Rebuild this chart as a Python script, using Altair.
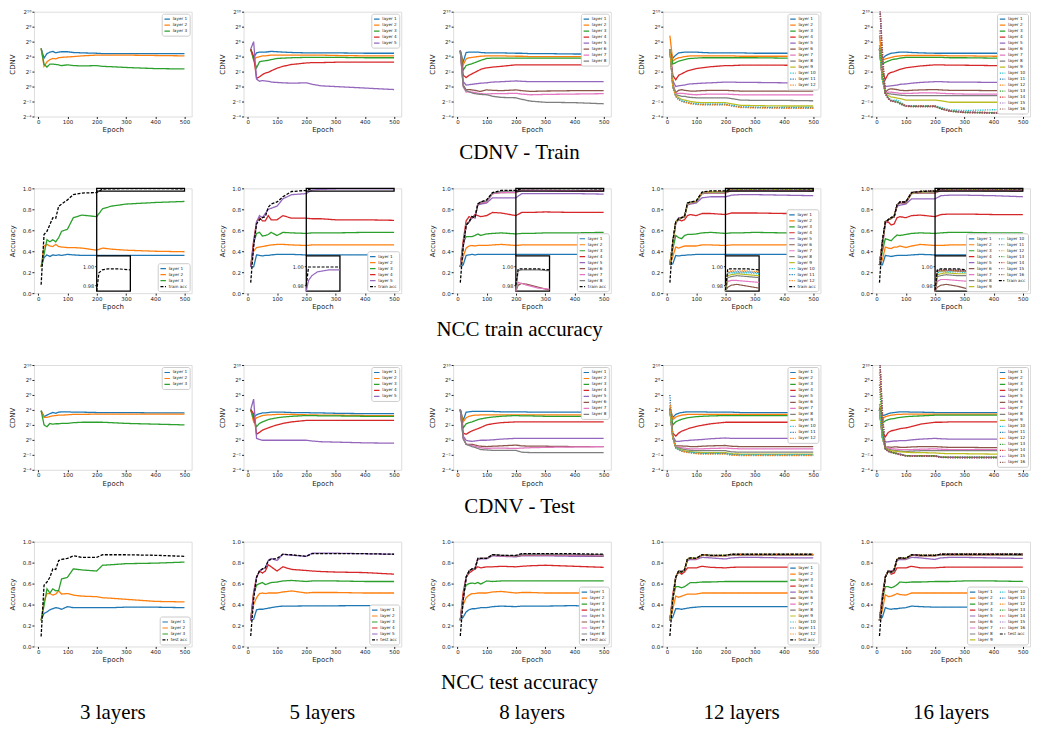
import altair as alt
import pandas as pd

EPOCHS = [10, 20, 30, 40, 50, 60, 70, 80, 100, 120, 150, 200, 220, 250, 300, 400, 500]
COL_LABELS = ["3 layers", "5 layers", "8 layers", "12 layers", "16 layers"]
ROW_TITLES = ["CDNV - Train", "NCC train accuracy", "CDNV - Test", "NCC test accuracy"]
CDNV_TICKS = [-4, -2, 0, 2, 4, 6, 8, 10]
ACC_TICKS = [0.0, 0.2, 0.4, 0.6, 0.8, 1.0]
EPOCH_TICKS = [0, 100, 200, 300, 400, 500]
INSET_TICKS = [0.98, 1.00]
TAB10 = ["#1f77b4", "#ff7f0e", "#2ca02c", "#d62728", "#9467bd",
         "#8c564b", "#e377c2", "#7f7f7f", "#bcbd22", "#17becf"]

# ---------------- CDNV train (log2 values) ----------------
cdnv_train_3 = {
    "layer 1": [5.1, 3.8, 4.4, 4.6, 4.7, 4.5, 4.6, 4.65, 4.65, 4.55, 4.5, 4.45, 4.4, 4.4, 4.4, 4.4, 4.4],
    "layer 2": [5.1, 2.7, 3.3, 3.6, 3.75, 3.7, 3.85, 3.9, 3.95, 4.0, 4.1, 4.2, 4.2, 4.2, 4.2, 4.15, 4.1],
    "layer 3": [5.1, 3.0, 2.6, 3.0, 3.0, 2.95, 2.9, 2.8, 2.9, 2.8, 2.75, 2.8, 2.7, 2.65, 2.55, 2.4, 2.35],
}
cdnv_train_5 = {
    "layer 1": [5.0, 3.9, 4.5, 4.6, 4.6, 4.6, 4.65, 4.7, 4.65, 4.6, 4.55, 4.5, 4.5, 4.5, 4.5, 4.45, 4.45],
    "layer 2": [5.0, 3.6, 3.9, 4.0, 4.1, 4.1, 4.15, 4.2, 4.2, 4.2, 4.2, 4.2, 4.2, 4.2, 4.15, 4.1, 4.1],
    "layer 3": [5.0, 3.6, 2.5, 3.3, 3.4, 3.45, 3.5, 3.6, 3.75, 3.8, 3.85, 3.9, 3.9, 3.9, 3.9, 3.85, 3.85],
    "layer 4": [5.0, 4.0, 1.1, 1.3, 1.6, 1.8, 1.9, 2.1, 2.45, 2.7, 2.95, 3.15, 3.2, 3.2, 3.25, 3.25, 3.25],
    "layer 5": [5.0, 6.0, 1.0, 0.7, 0.8, 0.75, 0.7, 0.6, 0.55, 0.5, 0.45, 0.5, 0.3, 0.1, 0.0, -0.2, -0.4],
}
cdnv_train_8 = {
    "layer 1": [4.8, 3.3, 4.55, 4.6, 4.6, 4.6, 4.6, 4.55, 4.5, 4.5, 4.5, 4.45, 4.45, 4.4, 4.4, 4.35, 4.35],
    "layer 2": [4.8, 2.9, 3.7, 3.85, 3.9, 3.95, 4.0, 4.05, 4.1, 4.1, 4.1, 4.05, 4.05, 4.0, 4.0, 4.0, 4.0],
    "layer 3": [4.8, 2.2, 2.8, 2.95, 3.05, 3.2, 3.35, 3.5, 3.75, 3.8, 3.8, 3.8, 3.8, 3.8, 3.8, 3.8, 3.8],
    "layer 4": [4.8, 1.5, 1.2, 1.5, 1.7, 1.9, 2.1, 2.3, 2.5, 2.6, 2.7, 2.9, 2.9, 2.9, 2.9, 2.9, 2.9],
    "layer 5": [4.8, 0.65, 0.2, 0.25, 0.3, 0.35, 0.4, 0.45, 0.5, 0.6, 0.65, 0.75, 0.7, 0.65, 0.65, 0.65, 0.65],
    "layer 6": [4.8, 0.2, -0.45, -0.4, -0.45, -0.5, -0.6, -0.65, -0.45, -0.5, -0.55, -0.45, -0.55, -0.65, -0.6, -0.55, -0.55],
    "layer 7": [4.8, 0.0, -0.75, -0.7, -0.75, -0.8, -0.9, -0.95, -1.0, -0.95, -0.95, -0.9, -1.0, -1.1, -1.05, -1.0, -0.95],
    "layer 8": [4.8, 0.0, -0.55, -0.7, -0.85, -0.95, -1.0, -1.05, -1.1, -1.3, -1.45, -1.5, -1.7, -1.95, -2.1, -2.15, -2.3],
}
cdnv_train_12 = {
    "layer 1": [5.0, 3.8, 4.2, 4.5, 4.55, 4.6, 4.6, 4.6, 4.6, 4.55, 4.5, 4.5, 4.5, 4.5, 4.45, 4.45, 4.45],
    "layer 2": [6.8, 3.4, 3.7, 3.85, 3.9, 4.0, 4.05, 4.1, 4.1, 4.1, 4.1, 4.1, 4.1, 4.05, 4.05, 4.05, 4.0],
    "layer 3": [5.0, 3.0, 3.2, 3.4, 3.5, 3.6, 3.7, 3.75, 3.8, 3.85, 3.85, 3.85, 3.85, 3.85, 3.85, 3.8, 3.8],
    "layer 4": [5.0, 1.5, 0.9, 1.5, 1.7, 1.9, 2.1, 2.2, 2.4, 2.5, 2.65, 2.8, 2.8, 2.85, 2.85, 2.85, 2.8],
    "layer 5": [5.0, 0.8, 0.0, 0.1, 0.15, 0.2, 0.3, 0.35, 0.4, 0.45, 0.5, 0.6, 0.6, 0.55, 0.55, 0.5, 0.5],
    "layer 6": [5.0, 0.3, -0.8, -0.5, -0.4, -0.5, -0.55, -0.6, -0.6, -0.55, -0.5, -0.5, -0.55, -0.6, -0.6, -0.6, -0.6],
    "layer 7": [5.0, 0.2, -1.0, -0.9, -0.9, -0.95, -1.0, -1.05, -1.1, -1.05, -1.0, -1.0, -1.05, -1.1, -1.1, -1.1, -1.1],
    "layer 8": [5.0, 0.1, -1.1, -1.2, -1.3, -1.3, -1.4, -1.45, -1.5, -1.5, -1.5, -1.5, -1.6, -1.8, -1.85, -1.85, -1.9],
    "layer 9": [5.0, 0.0, -1.2, -1.5, -1.7, -1.8, -1.9, -2.0, -2.1, -2.15, -2.15, -2.15, -2.3, -2.5, -2.55, -2.6, -2.6],
    "layer 10": [5.0, 0.0, -1.3, -1.7, -1.9, -2.0, -2.1, -2.2, -2.3, -2.35, -2.35, -2.35, -2.5, -2.7, -2.75, -2.8, -2.8],
    "layer 11": [5.0, 0.0, -1.3, -1.75, -1.95, -2.05, -2.15, -2.25, -2.35, -2.4, -2.4, -2.4, -2.55, -2.75, -2.8, -2.85, -2.85],
    "layer 12": [5.0, 0.0, -1.3, -1.8, -2.0, -2.1, -2.2, -2.3, -2.4, -2.45, -2.45, -2.45, -2.6, -2.8, -2.85, -2.9, -2.9],
}
cdnv_train_16 = {
    "layer 1": [5.2, 3.7, 4.1, 4.3, 4.45, 4.5, 4.55, 4.6, 4.6, 4.55, 4.5, 4.45, 4.45, 4.45, 4.45, 4.45, 4.45],
    "layer 2": [6.8, 3.45, 3.7, 3.8, 3.9, 4.0, 4.05, 4.1, 4.15, 4.15, 4.15, 4.15, 4.15, 4.1, 4.1, 4.05, 4.05],
    "layer 3": [5.0, 3.0, 3.25, 3.4, 3.55, 3.65, 3.7, 3.8, 3.9, 3.9, 3.9, 3.9, 3.9, 3.85, 3.85, 3.8, 3.8],
    "layer 4": [5.0, 2.0, 0.95, 1.7, 1.9, 2.0, 2.15, 2.3, 2.5, 2.6, 2.75, 2.9, 2.9, 2.85, 2.85, 2.8, 2.8],
    "layer 5": [5.0, 1.0, 0.0, 0.05, 0.1, 0.15, 0.2, 0.3, 0.35, 0.45, 0.55, 0.65, 0.65, 0.6, 0.6, 0.55, 0.5],
    "layer 6": [5.0, 1.0, -0.75, -0.4, -0.3, -0.35, -0.4, -0.5, -0.55, -0.5, -0.45, -0.4, -0.45, -0.5, -0.5, -0.55, -0.55],
    "layer 7": [5.0, 1.0, -0.85, -0.75, -0.75, -0.8, -0.85, -0.9, -0.9, -0.9, -0.85, -0.85, -0.9, -0.95, -1.0, -1.0, -1.0],
    "layer 8": [5.0, 1.0, -0.9, -0.95, -1.0, -1.05, -1.1, -1.15, -1.2, -1.2, -1.2, -1.2, -1.2, -1.2, -1.2, -1.2, -1.2],
    "layer 9": [5.0, 1.0, -0.9, -1.2, -1.4, -1.45, -1.55, -1.6, -1.8, -1.8, -1.8, -1.8, -1.9, -2.1, -2.1, -2.1, -2.1],
    "layer 10": [5.2, 1.0, -0.9, -1.5, -1.8, -1.8, -1.8, -2.0, -2.55, -2.55, -2.55, -2.55, -2.8, -3.1, -3.2, -3.1, -3.05],
    "layer 11": [12.0, 3.0, -0.9, -1.6, -1.9, -1.9, -2.0, -2.2, -2.55, -2.6, -2.6, -2.6, -2.9, -3.2, -3.4, -3.5, -3.55],
    "layer 12": [7.5, 2.0, -0.9, -1.6, -1.9, -2.0, -2.0, -2.2, -2.55, -2.6, -2.6, -2.6, -2.9, -3.2, -3.4, -3.45, -3.5],
    "layer 13": [5.5, 1.5, -0.9, -1.6, -1.9, -1.95, -2.05, -2.25, -2.6, -2.65, -2.65, -2.65, -2.95, -3.25, -3.45, -3.5, -3.5],
    "layer 14": [12.0, 4.0, -0.9, -1.6, -1.95, -2.0, -2.1, -2.3, -2.6, -2.65, -2.65, -2.65, -2.95, -3.3, -3.45, -3.55, -3.6],
    "layer 15": [12.0, 3.5, -0.9, -1.6, -1.95, -2.0, -2.1, -2.3, -2.6, -2.6, -2.65, -2.65, -2.95, -3.25, -3.4, -3.5, -3.55],
    "layer 16": [12.0, 5.0, -0.9, -1.65, -1.95, -2.05, -2.1, -2.3, -2.65, -2.7, -2.7, -2.7, -3.0, -3.3, -3.5, -3.55, -3.6],
}

# ---------------- NCC train accuracy ----------------
acc_train_3 = {
    "layer 1": [0.25, 0.34, 0.365, 0.35, 0.365, 0.36, 0.365, 0.36, 0.37, 0.365, 0.36, 0.36, 0.36, 0.36, 0.36, 0.36, 0.36],
    "layer 2": [0.25, 0.45, 0.465, 0.45, 0.445, 0.465, 0.445, 0.44, 0.435, 0.435, 0.43, 0.41, 0.43, 0.42, 0.41, 0.40, 0.395],
    "layer 3": [0.25, 0.37, 0.51, 0.49, 0.51, 0.49, 0.53, 0.59, 0.61, 0.72, 0.745, 0.73, 0.805, 0.83, 0.85, 0.865, 0.875],
    "train acc": [0.08, 0.56, 0.59, 0.655, 0.72, 0.715, 0.83, 0.85, 0.89, 0.94, 0.955, 0.96, 0.993, 0.996, 0.997, 0.997, 0.996],
}
acc_train_5 = {
    "layer 1": [0.25, 0.25, 0.365, 0.36, 0.355, 0.36, 0.36, 0.365, 0.37, 0.37, 0.37, 0.365, 0.365, 0.365, 0.365, 0.365, 0.365],
    "layer 2": [0.25, 0.40, 0.435, 0.44, 0.445, 0.45, 0.455, 0.46, 0.465, 0.465, 0.46, 0.455, 0.46, 0.46, 0.46, 0.46, 0.46],
    "layer 3": [0.25, 0.48, 0.57, 0.58, 0.545, 0.55, 0.56, 0.58, 0.55, 0.58, 0.575, 0.57, 0.575, 0.575, 0.575, 0.58, 0.58],
    "layer 4": [0.25, 0.50, 0.68, 0.72, 0.69, 0.69, 0.74, 0.70, 0.70, 0.74, 0.715, 0.715, 0.71, 0.71, 0.70, 0.70, 0.695],
    "layer 5": [0.25, 0.45, 0.68, 0.74, 0.72, 0.76, 0.80, 0.81, 0.83, 0.90, 0.94, 0.95, 0.985, 0.99, 0.994, 0.996, 0.996],
    "train acc": [0.10, 0.45, 0.66, 0.70, 0.72, 0.73, 0.82, 0.85, 0.87, 0.92, 0.97, 0.98, 0.999, 0.999, 0.999, 0.999, 0.999],
}
acc_train_8 = {
    "layer 1": [0.25, 0.27, 0.36, 0.365, 0.37, 0.365, 0.37, 0.37, 0.37, 0.37, 0.37, 0.37, 0.37, 0.37, 0.37, 0.37, 0.37],
    "layer 2": [0.25, 0.35, 0.43, 0.45, 0.455, 0.45, 0.455, 0.455, 0.455, 0.46, 0.465, 0.455, 0.46, 0.46, 0.46, 0.46, 0.46],
    "layer 3": [0.25, 0.48, 0.54, 0.54, 0.54, 0.55, 0.565, 0.55, 0.565, 0.57, 0.575, 0.565, 0.57, 0.57, 0.575, 0.575, 0.58],
    "layer 4": [0.25, 0.50, 0.69, 0.73, 0.715, 0.75, 0.74, 0.73, 0.74, 0.77, 0.765, 0.74, 0.77, 0.77, 0.775, 0.77, 0.77],
    "layer 5": [0.25, 0.45, 0.65, 0.68, 0.72, 0.72, 0.84, 0.85, 0.86, 0.91, 0.91, 0.91, 0.95, 0.95, 0.95, 0.95, 0.945],
    "layer 6": [0.25, 0.45, 0.65, 0.68, 0.73, 0.72, 0.85, 0.86, 0.87, 0.95, 0.96, 0.96, 0.98, 0.982, 0.981, 0.978, 0.975],
    "layer 7": [0.25, 0.45, 0.65, 0.68, 0.73, 0.72, 0.85, 0.865, 0.87, 0.95, 0.96, 0.962, 0.983, 0.982, 0.98, 0.977, 0.976],
    "layer 8": [0.25, 0.45, 0.65, 0.68, 0.73, 0.72, 0.855, 0.87, 0.88, 0.955, 0.97, 0.975, 0.995, 0.996, 0.996, 0.996, 0.995],
    "train acc": [0.10, 0.45, 0.65, 0.68, 0.73, 0.72, 0.85, 0.87, 0.89, 0.96, 0.98, 0.98, 0.997, 0.997, 0.997, 0.997, 0.996],
}
acc_train_12 = {
    "layer 1": [0.27, 0.28, 0.36, 0.355, 0.36, 0.36, 0.365, 0.365, 0.37, 0.37, 0.37, 0.37, 0.37, 0.37, 0.37, 0.37, 0.37],
    "layer 2": [0.27, 0.35, 0.44, 0.43, 0.44, 0.45, 0.45, 0.45, 0.45, 0.46, 0.46, 0.455, 0.46, 0.46, 0.46, 0.46, 0.46],
    "layer 3": [0.27, 0.42, 0.55, 0.53, 0.52, 0.55, 0.56, 0.56, 0.565, 0.575, 0.58, 0.57, 0.575, 0.575, 0.58, 0.575, 0.575],
    "layer 4": [0.27, 0.48, 0.68, 0.70, 0.69, 0.70, 0.74, 0.75, 0.74, 0.76, 0.76, 0.75, 0.765, 0.765, 0.765, 0.76, 0.76],
    "layer 5": [0.27, 0.46, 0.67, 0.72, 0.72, 0.74, 0.84, 0.85, 0.86, 0.91, 0.92, 0.92, 0.935, 0.94, 0.94, 0.935, 0.93],
    "layer 6": [0.27, 0.47, 0.67, 0.70, 0.72, 0.73, 0.85, 0.86, 0.87, 0.95, 0.955, 0.955, 0.978, 0.98, 0.981, 0.979, 0.977],
    "layer 7": [0.27, 0.47, 0.67, 0.70, 0.72, 0.73, 0.85, 0.86, 0.87, 0.955, 0.96, 0.96, 0.984, 0.985, 0.985, 0.984, 0.983],
    "layer 8": [0.27, 0.48, 0.68, 0.70, 0.72, 0.73, 0.85, 0.865, 0.87, 0.955, 0.965, 0.965, 0.988, 0.989, 0.99, 0.989, 0.988],
    "layer 9": [0.27, 0.48, 0.68, 0.71, 0.72, 0.73, 0.85, 0.865, 0.875, 0.96, 0.965, 0.968, 0.99, 0.991, 0.992, 0.991, 0.99],
    "layer 10": [0.27, 0.49, 0.68, 0.71, 0.72, 0.73, 0.855, 0.87, 0.875, 0.96, 0.968, 0.97, 0.992, 0.993, 0.993, 0.993, 0.992],
    "layer 11": [0.27, 0.49, 0.68, 0.71, 0.72, 0.73, 0.855, 0.87, 0.875, 0.96, 0.97, 0.972, 0.993, 0.994, 0.994, 0.994, 0.993],
    "layer 12": [0.27, 0.49, 0.68, 0.71, 0.72, 0.73, 0.855, 0.87, 0.875, 0.96, 0.97, 0.972, 0.994, 0.995, 0.995, 0.995, 0.994],
    "train acc": [0.10, 0.50, 0.68, 0.71, 0.72, 0.73, 0.86, 0.87, 0.88, 0.965, 0.975, 0.975, 0.997, 0.997, 0.997, 0.997, 0.996],
}
acc_train_16 = {
    "layer 1": [0.27, 0.27, 0.36, 0.355, 0.35, 0.355, 0.36, 0.36, 0.36, 0.365, 0.37, 0.365, 0.365, 0.365, 0.365, 0.365, 0.365],
    "layer 2": [0.27, 0.32, 0.44, 0.43, 0.425, 0.44, 0.44, 0.45, 0.435, 0.45, 0.465, 0.455, 0.455, 0.46, 0.46, 0.46, 0.46],
    "layer 3": [0.27, 0.40, 0.52, 0.51, 0.50, 0.53, 0.555, 0.55, 0.56, 0.57, 0.575, 0.57, 0.575, 0.58, 0.58, 0.575, 0.575],
    "layer 4": [0.27, 0.45, 0.67, 0.68, 0.65, 0.66, 0.72, 0.73, 0.72, 0.74, 0.745, 0.73, 0.75, 0.755, 0.755, 0.75, 0.75],
    "layer 5": [0.27, 0.45, 0.67, 0.70, 0.72, 0.73, 0.83, 0.84, 0.85, 0.90, 0.90, 0.90, 0.93, 0.935, 0.935, 0.93, 0.92],
    "layer 6": [0.27, 0.47, 0.67, 0.70, 0.71, 0.73, 0.84, 0.86, 0.86, 0.95, 0.955, 0.955, 0.978, 0.98, 0.981, 0.979, 0.976],
    "layer 7": [0.27, 0.47, 0.67, 0.70, 0.72, 0.73, 0.84, 0.86, 0.865, 0.955, 0.96, 0.96, 0.984, 0.986, 0.986, 0.985, 0.984],
    "layer 8": [0.27, 0.48, 0.68, 0.70, 0.72, 0.73, 0.84, 0.865, 0.865, 0.955, 0.965, 0.965, 0.989, 0.99, 0.991, 0.99, 0.99],
    "layer 9": [0.27, 0.48, 0.68, 0.70, 0.72, 0.73, 0.84, 0.865, 0.87, 0.955, 0.965, 0.97, 0.991, 0.992, 0.993, 0.992, 0.992],
    "layer 10": [0.27, 0.49, 0.68, 0.70, 0.72, 0.73, 0.84, 0.87, 0.87, 0.96, 0.968, 0.972, 0.993, 0.994, 0.994, 0.994, 0.993],
    "layer 11": [0.27, 0.49, 0.68, 0.70, 0.72, 0.73, 0.84, 0.87, 0.87, 0.96, 0.97, 0.973, 0.994, 0.995, 0.995, 0.995, 0.994],
    "layer 12": [0.27, 0.49, 0.68, 0.70, 0.72, 0.73, 0.84, 0.87, 0.87, 0.96, 0.97, 0.973, 0.994, 0.995, 0.995, 0.995, 0.994],
    "layer 13": [0.27, 0.49, 0.68, 0.70, 0.72, 0.73, 0.84, 0.87, 0.87, 0.96, 0.97, 0.974, 0.995, 0.995, 0.996, 0.995, 0.995],
    "layer 14": [0.27, 0.49, 0.68, 0.70, 0.72, 0.73, 0.84, 0.87, 0.87, 0.96, 0.97, 0.974, 0.995, 0.996, 0.996, 0.995, 0.995],
    "layer 15": [0.27, 0.49, 0.68, 0.70, 0.72, 0.73, 0.84, 0.87, 0.87, 0.96, 0.97, 0.974, 0.995, 0.996, 0.996, 0.996, 0.995],
    "layer 16": [0.27, 0.49, 0.68, 0.70, 0.72, 0.73, 0.84, 0.87, 0.87, 0.96, 0.97, 0.974, 0.995, 0.996, 0.996, 0.996, 0.995],
    "train acc": [0.10, 0.50, 0.68, 0.70, 0.72, 0.73, 0.84, 0.87, 0.87, 0.96, 0.97, 0.975, 0.996, 0.997, 0.997, 0.997, 0.996],
}

# ---------------- CDNV test (log2 values) ----------------
cdnv_test_3 = {
    "layer 1": [3.9, 3.1, 3.3, 3.5, 3.65, 3.55, 3.7, 3.75, 3.75, 3.7, 3.7, 3.65, 3.65, 3.65, 3.65, 3.6, 3.6],
    "layer 2": [3.9, 3.0, 3.0, 3.1, 3.2, 3.25, 3.3, 3.3, 3.35, 3.4, 3.4, 3.45, 3.45, 3.45, 3.45, 3.45, 3.45],
    "layer 3": [3.9, 2.0, 1.75, 2.2, 2.1, 2.15, 2.15, 2.2, 2.2, 2.3, 2.35, 2.35, 2.35, 2.3, 2.2, 2.1, 2.0],
}
cdnv_test_5 = {
    "layer 1": [4.05, 3.0, 3.35, 3.5, 3.6, 3.6, 3.65, 3.7, 3.7, 3.7, 3.65, 3.65, 3.6, 3.6, 3.55, 3.5, 3.5],
    "layer 2": [4.05, 2.4, 2.95, 3.1, 3.25, 3.3, 3.35, 3.35, 3.4, 3.4, 3.4, 3.35, 3.35, 3.3, 3.3, 3.25, 3.25],
    "layer 3": [4.05, 2.8, 1.75, 2.2, 2.4, 2.55, 2.7, 2.8, 2.95, 3.05, 3.15, 3.25, 3.25, 3.2, 3.2, 3.15, 3.15],
    "layer 4": [4.05, 3.5, 0.75, 1.0, 1.3, 1.45, 1.6, 1.75, 2.0, 2.2, 2.4, 2.6, 2.6, 2.6, 2.6, 2.6, 2.6],
    "layer 5": [4.05, 5.45, 0.2, 0.05, -0.05, -0.05, -0.05, -0.05, -0.05, -0.05, -0.05, -0.05, -0.15, -0.25, -0.3, -0.4, -0.45],
}
cdnv_test_8 = {
    "layer 1": [4.05, 2.6, 3.7, 3.75, 3.8, 3.8, 3.8, 3.8, 3.8, 3.8, 3.75, 3.75, 3.75, 3.7, 3.7, 3.7, 3.7],
    "layer 2": [4.05, 2.4, 2.95, 3.15, 3.25, 3.3, 3.3, 3.35, 3.35, 3.35, 3.35, 3.35, 3.35, 3.35, 3.35, 3.35, 3.35],
    "layer 3": [4.05, 1.6, 2.15, 2.3, 2.4, 2.55, 2.7, 2.8, 2.95, 3.05, 3.15, 3.25, 3.2, 3.2, 3.15, 3.15, 3.15],
    "layer 4": [4.05, 0.9, 0.75, 1.0, 1.2, 1.35, 1.5, 1.65, 2.0, 2.15, 2.3, 2.4, 2.4, 2.4, 2.4, 2.4, 2.4],
    "layer 5": [4.05, 0.5, -0.05, -0.15, -0.2, -0.15, -0.1, -0.05, -0.05, 0.0, 0.1, 0.2, 0.2, 0.2, 0.2, 0.2, 0.2],
    "layer 6": [4.05, 0.3, -0.6, -0.6, -0.6, -0.7, -0.8, -0.85, -0.9, -0.85, -0.8, -0.7, -0.8, -0.85, -0.85, -0.9, -0.9],
    "layer 7": [4.05, 0.2, -0.6, -0.7, -0.75, -0.85, -0.95, -1.05, -1.15, -1.1, -1.1, -1.15, -1.1, -1.05, -1.0, -0.95, -0.9],
    "layer 8": [4.05, 0.1, -0.6, -0.75, -0.9, -1.0, -1.15, -1.3, -1.35, -1.4, -1.4, -1.4, -1.65, -1.7, -1.7, -1.7, -1.7],
}
cdnv_test_12 = {
    "layer 1": [4.2, 3.0, 3.4, 3.55, 3.65, 3.7, 3.75, 3.75, 3.75, 3.75, 3.7, 3.7, 3.7, 3.65, 3.65, 3.65, 3.65],
    "layer 2": [4.6, 2.7, 3.05, 3.2, 3.3, 3.35, 3.4, 3.4, 3.4, 3.4, 3.4, 3.4, 3.4, 3.4, 3.4, 3.4, 3.4],
    "layer 3": [4.2, 2.0, 2.4, 2.6, 2.75, 2.85, 2.95, 3.0, 3.1, 3.15, 3.2, 3.25, 3.25, 3.25, 3.25, 3.25, 3.25],
    "layer 4": [4.1, 0.9, 0.5, 0.9, 1.15, 1.3, 1.45, 1.6, 1.8, 1.95, 2.15, 2.35, 2.35, 2.35, 2.35, 2.35, 2.35],
    "layer 5": [4.0, 0.5, -0.2, -0.2, -0.15, -0.1, -0.1, -0.05, 0.0, 0.05, 0.15, 0.25, 0.2, 0.2, 0.2, 0.2, 0.2],
    "layer 6": [4.0, 0.3, -0.8, -0.8, -0.8, -0.85, -0.85, -0.9, -0.9, -0.85, -0.8, -0.75, -0.85, -0.9, -0.9, -0.9, -0.9],
    "layer 7": [4.0, 0.3, -0.9, -1.0, -1.05, -1.1, -1.15, -1.2, -1.2, -1.2, -1.15, -1.1, -1.15, -1.2, -1.2, -1.2, -1.2],
    "layer 8": [4.0, 0.3, -0.95, -1.1, -1.2, -1.3, -1.35, -1.4, -1.45, -1.45, -1.45, -1.45, -1.6, -1.65, -1.65, -1.65, -1.65],
    "layer 9": [4.0, 0.3, -1.0, -1.2, -1.35, -1.45, -1.5, -1.55, -1.65, -1.7, -1.7, -1.7, -1.85, -1.9, -1.9, -1.9, -1.9],
    "layer 10": [4.0, 0.3, -1.05, -1.3, -1.45, -1.55, -1.6, -1.65, -1.75, -1.8, -1.8, -1.8, -1.95, -2.0, -2.0, -2.0, -2.0],
    "layer 11": [6.0, 0.5, -1.1, -1.35, -1.5, -1.6, -1.65, -1.7, -1.8, -1.85, -1.85, -1.85, -2.0, -2.05, -2.05, -2.05, -2.05],
    "layer 12": [5.0, 0.4, -1.1, -1.35, -1.5, -1.6, -1.7, -1.75, -1.85, -1.9, -1.9, -1.9, -2.05, -2.1, -2.1, -2.1, -2.1],
}
cdnv_test_16 = {
    "layer 1": [4.3, 3.2, 3.35, 3.5, 3.6, 3.65, 3.7, 3.75, 3.75, 3.7, 3.7, 3.65, 3.65, 3.65, 3.65, 3.65, 3.65],
    "layer 2": [4.8, 2.8, 3.1, 3.2, 3.3, 3.35, 3.4, 3.4, 3.45, 3.45, 3.45, 3.45, 3.45, 3.45, 3.45, 3.45, 3.45],
    "layer 3": [4.3, 2.2, 2.55, 2.7, 2.8, 2.85, 2.95, 3.0, 3.1, 3.15, 3.2, 3.3, 3.3, 3.3, 3.3, 3.3, 3.3],
    "layer 4": [4.1, 1.0, 0.4, 1.0, 1.2, 1.3, 1.4, 1.5, 1.6, 1.8, 2.1, 2.35, 2.35, 2.4, 2.4, 2.4, 2.4],
    "layer 5": [4.0, 0.5, -0.3, -0.25, -0.2, -0.15, -0.15, -0.1, -0.1, 0.0, 0.1, 0.2, 0.15, 0.1, 0.1, 0.1, 0.1],
    "layer 6": [4.0, 0.3, -1.0, -0.95, -1.0, -0.95, -0.95, -1.0, -1.0, -0.95, -0.9, -0.9, -0.95, -1.0, -1.0, -1.05, -1.05],
    "layer 7": [4.0, 0.3, -1.05, -1.1, -1.2, -1.2, -1.25, -1.3, -1.3, -1.3, -1.25, -1.2, -1.25, -1.3, -1.3, -1.3, -1.3],
    "layer 8": [4.0, 0.3, -1.1, -1.25, -1.35, -1.4, -1.45, -1.5, -1.55, -1.5, -1.45, -1.45, -1.45, -1.45, -1.45, -1.45, -1.45],
    "layer 9": [4.0, 0.3, -1.15, -1.35, -1.45, -1.5, -1.55, -1.6, -1.65, -1.7, -1.7, -1.75, -1.8, -1.85, -1.85, -1.9, -1.9],
    "layer 10": [4.0, 0.3, -1.2, -1.5, -1.6, -1.7, -1.8, -1.9, -2.1, -2.1, -2.1, -2.1, -2.3, -2.3, -2.3, -2.3, -2.3],
    "layer 11": [12.0, 2.0, -1.2, -1.5, -1.6, -1.7, -1.8, -1.9, -2.1, -2.1, -2.1, -2.1, -2.3, -2.3, -2.3, -2.3, -2.3],
    "layer 12": [9.0, 1.5, -1.2, -1.5, -1.65, -1.7, -1.8, -1.9, -2.1, -2.1, -2.1, -2.15, -2.3, -2.3, -2.35, -2.35, -2.35],
    "layer 13": [7.4, 1.0, -1.2, -1.5, -1.65, -1.75, -1.85, -1.95, -2.1, -2.15, -2.15, -2.15, -2.3, -2.35, -2.35, -2.35, -2.35],
    "layer 14": [12.0, 3.0, -1.2, -1.55, -1.65, -1.75, -1.85, -1.95, -2.15, -2.15, -2.15, -2.15, -2.35, -2.35, -2.35, -2.35, -2.35],
    "layer 15": [12.0, 3.5, -1.2, -1.55, -1.7, -1.75, -1.85, -1.95, -2.15, -2.15, -2.2, -2.2, -2.35, -2.35, -2.4, -2.4, -2.4],
    "layer 16": [12.0, 4.0, -1.2, -1.55, -1.7, -1.8, -1.9, -2.0, -2.15, -2.2, -2.2, -2.2, -2.35, -2.4, -2.4, -2.4, -2.4],
}

# ---------------- NCC test accuracy ----------------
acc_test_3 = {
    "layer 1": [0.25, 0.315, 0.33, 0.35, 0.36, 0.37, 0.365, 0.355, 0.38, 0.37, 0.37, 0.37, 0.37, 0.37, 0.375, 0.375, 0.37],
    "layer 2": [0.25, 0.43, 0.505, 0.505, 0.49, 0.50, 0.53, 0.50, 0.505, 0.49, 0.48, 0.475, 0.465, 0.46, 0.45, 0.43, 0.425],
    "layer 3": [0.25, 0.39, 0.55, 0.51, 0.55, 0.53, 0.535, 0.645, 0.66, 0.74, 0.73, 0.72, 0.775, 0.78, 0.79, 0.795, 0.805],
    "test acc": [0.095, 0.585, 0.615, 0.66, 0.74, 0.735, 0.82, 0.83, 0.84, 0.865, 0.85, 0.85, 0.875, 0.875, 0.875, 0.87, 0.86],
}
acc_test_5 = {
    "layer 1": [0.25, 0.26, 0.35, 0.355, 0.355, 0.36, 0.365, 0.37, 0.38, 0.385, 0.385, 0.387, 0.387, 0.387, 0.388, 0.39, 0.39],
    "layer 2": [0.25, 0.40, 0.465, 0.505, 0.51, 0.505, 0.51, 0.51, 0.51, 0.52, 0.53, 0.51, 0.515, 0.515, 0.515, 0.51, 0.51],
    "layer 3": [0.25, 0.50, 0.585, 0.60, 0.61, 0.59, 0.60, 0.61, 0.615, 0.625, 0.63, 0.62, 0.625, 0.625, 0.625, 0.62, 0.62],
    "layer 4": [0.25, 0.52, 0.66, 0.72, 0.70, 0.72, 0.78, 0.76, 0.72, 0.76, 0.735, 0.725, 0.72, 0.715, 0.71, 0.705, 0.69],
    "layer 5": [0.25, 0.48, 0.66, 0.72, 0.74, 0.75, 0.82, 0.84, 0.82, 0.88, 0.87, 0.86, 0.89, 0.89, 0.89, 0.885, 0.88],
    "test acc": [0.10, 0.45, 0.66, 0.72, 0.74, 0.75, 0.82, 0.83, 0.84, 0.88, 0.875, 0.86, 0.885, 0.885, 0.885, 0.885, 0.88],
}
acc_test_8 = {
    "layer 1": [0.25, 0.28, 0.33, 0.35, 0.36, 0.36, 0.365, 0.37, 0.37, 0.38, 0.385, 0.38, 0.385, 0.385, 0.385, 0.39, 0.37],
    "layer 2": [0.25, 0.40, 0.465, 0.49, 0.505, 0.505, 0.51, 0.51, 0.51, 0.52, 0.525, 0.51, 0.515, 0.515, 0.51, 0.51, 0.51],
    "layer 3": [0.25, 0.50, 0.585, 0.60, 0.605, 0.60, 0.61, 0.595, 0.625, 0.62, 0.625, 0.625, 0.625, 0.625, 0.625, 0.625, 0.625],
    "layer 4": [0.25, 0.52, 0.66, 0.70, 0.72, 0.74, 0.76, 0.75, 0.76, 0.76, 0.765, 0.76, 0.765, 0.77, 0.775, 0.765, 0.755],
    "layer 5": [0.25, 0.45, 0.66, 0.72, 0.74, 0.74, 0.83, 0.835, 0.835, 0.865, 0.86, 0.855, 0.865, 0.865, 0.865, 0.86, 0.86],
    "layer 6": [0.25, 0.45, 0.66, 0.72, 0.74, 0.74, 0.835, 0.84, 0.84, 0.87, 0.865, 0.86, 0.87, 0.87, 0.872, 0.87, 0.865],
    "layer 7": [0.25, 0.45, 0.66, 0.72, 0.74, 0.74, 0.835, 0.84, 0.84, 0.87, 0.865, 0.865, 0.875, 0.875, 0.875, 0.872, 0.87],
    "layer 8": [0.25, 0.45, 0.66, 0.72, 0.74, 0.74, 0.84, 0.84, 0.84, 0.875, 0.87, 0.865, 0.88, 0.88, 0.88, 0.878, 0.875],
    "test acc": [0.10, 0.45, 0.66, 0.72, 0.74, 0.74, 0.84, 0.84, 0.84, 0.875, 0.87, 0.87, 0.885, 0.885, 0.885, 0.885, 0.88],
}
acc_test_12 = {
    "layer 1": [0.25, 0.28, 0.36, 0.36, 0.355, 0.36, 0.365, 0.37, 0.375, 0.38, 0.38, 0.38, 0.38, 0.38, 0.38, 0.38, 0.38],
    "layer 2": [0.25, 0.36, 0.48, 0.47, 0.48, 0.49, 0.50, 0.50, 0.50, 0.51, 0.51, 0.51, 0.51, 0.51, 0.51, 0.51, 0.51],
    "layer 3": [0.25, 0.46, 0.57, 0.57, 0.56, 0.57, 0.59, 0.61, 0.61, 0.615, 0.615, 0.62, 0.62, 0.62, 0.62, 0.62, 0.62],
    "layer 4": [0.25, 0.50, 0.66, 0.71, 0.69, 0.71, 0.75, 0.75, 0.75, 0.765, 0.755, 0.75, 0.755, 0.757, 0.757, 0.757, 0.755],
    "layer 5": [0.25, 0.45, 0.66, 0.72, 0.72, 0.73, 0.82, 0.83, 0.83, 0.85, 0.845, 0.835, 0.845, 0.85, 0.85, 0.845, 0.845],
    "layer 6": [0.25, 0.45, 0.66, 0.72, 0.71, 0.73, 0.83, 0.84, 0.835, 0.87, 0.865, 0.865, 0.87, 0.87, 0.87, 0.87, 0.87],
    "layer 7": [0.25, 0.45, 0.66, 0.72, 0.71, 0.73, 0.83, 0.84, 0.835, 0.87, 0.865, 0.865, 0.872, 0.872, 0.872, 0.872, 0.872],
    "layer 8": [0.25, 0.45, 0.66, 0.72, 0.71, 0.73, 0.83, 0.84, 0.84, 0.872, 0.867, 0.867, 0.875, 0.875, 0.875, 0.875, 0.875],
    "layer 9": [0.25, 0.45, 0.66, 0.72, 0.71, 0.73, 0.835, 0.845, 0.84, 0.873, 0.868, 0.868, 0.877, 0.877, 0.877, 0.877, 0.877],
    "layer 10": [0.25, 0.45, 0.66, 0.72, 0.71, 0.73, 0.835, 0.845, 0.84, 0.875, 0.87, 0.87, 0.878, 0.878, 0.878, 0.878, 0.878],
    "layer 11": [0.25, 0.45, 0.66, 0.72, 0.71, 0.73, 0.835, 0.845, 0.84, 0.875, 0.87, 0.87, 0.879, 0.879, 0.879, 0.879, 0.879],
    "layer 12": [0.25, 0.45, 0.66, 0.72, 0.71, 0.73, 0.835, 0.845, 0.84, 0.875, 0.87, 0.87, 0.88, 0.88, 0.88, 0.88, 0.88],
    "test acc": [0.10, 0.45, 0.66, 0.72, 0.71, 0.73, 0.835, 0.845, 0.84, 0.875, 0.87, 0.87, 0.88, 0.88, 0.88, 0.88, 0.88],
}
acc_test_16 = {
    "layer 1": [0.25, 0.28, 0.37, 0.36, 0.355, 0.36, 0.36, 0.365, 0.37, 0.385, 0.38, 0.375, 0.375, 0.375, 0.375, 0.375, 0.375],
    "layer 2": [0.25, 0.35, 0.495, 0.475, 0.48, 0.49, 0.505, 0.495, 0.49, 0.51, 0.51, 0.51, 0.51, 0.51, 0.51, 0.51, 0.51],
    "layer 3": [0.25, 0.45, 0.57, 0.57, 0.56, 0.57, 0.59, 0.615, 0.61, 0.615, 0.615, 0.62, 0.62, 0.62, 0.625, 0.625, 0.62],
    "layer 4": [0.25, 0.50, 0.66, 0.72, 0.69, 0.70, 0.75, 0.75, 0.75, 0.765, 0.75, 0.75, 0.755, 0.757, 0.757, 0.757, 0.757],
    "layer 5": [0.25, 0.45, 0.66, 0.72, 0.72, 0.73, 0.82, 0.83, 0.83, 0.85, 0.845, 0.83, 0.845, 0.85, 0.85, 0.845, 0.84],
    "layer 6": [0.25, 0.45, 0.66, 0.72, 0.70, 0.72, 0.83, 0.84, 0.835, 0.87, 0.865, 0.865, 0.872, 0.872, 0.873, 0.872, 0.87],
    "layer 7": [0.25, 0.45, 0.66, 0.72, 0.70, 0.72, 0.83, 0.84, 0.835, 0.87, 0.865, 0.865, 0.874, 0.874, 0.875, 0.874, 0.873],
    "layer 8": [0.25, 0.45, 0.66, 0.72, 0.70, 0.72, 0.83, 0.84, 0.835, 0.872, 0.867, 0.867, 0.876, 0.876, 0.876, 0.876, 0.875],
    "layer 9": [0.25, 0.45, 0.66, 0.72, 0.71, 0.73, 0.835, 0.845, 0.84, 0.873, 0.868, 0.868, 0.877, 0.877, 0.877, 0.877, 0.876],
    "layer 10": [0.25, 0.45, 0.66, 0.72, 0.71, 0.73, 0.835, 0.845, 0.84, 0.874, 0.869, 0.869, 0.878, 0.878, 0.878, 0.878, 0.877],
    "layer 11": [0.25, 0.45, 0.66, 0.72, 0.71, 0.73, 0.835, 0.845, 0.84, 0.875, 0.87, 0.87, 0.879, 0.879, 0.879, 0.879, 0.878],
    "layer 12": [0.25, 0.45, 0.66, 0.72, 0.71, 0.73, 0.835, 0.845, 0.84, 0.875, 0.87, 0.87, 0.88, 0.88, 0.88, 0.88, 0.879],
    "layer 13": [0.25, 0.45, 0.66, 0.72, 0.71, 0.73, 0.835, 0.845, 0.84, 0.875, 0.87, 0.87, 0.88, 0.88, 0.881, 0.88, 0.88],
    "layer 14": [0.25, 0.45, 0.66, 0.72, 0.71, 0.73, 0.835, 0.845, 0.84, 0.875, 0.87, 0.87, 0.881, 0.881, 0.881, 0.881, 0.88],
    "layer 15": [0.25, 0.45, 0.66, 0.72, 0.71, 0.73, 0.835, 0.845, 0.84, 0.875, 0.87, 0.87, 0.881, 0.881, 0.882, 0.881, 0.881],
    "layer 16": [0.25, 0.45, 0.66, 0.72, 0.71, 0.73, 0.835, 0.845, 0.84, 0.875, 0.87, 0.87, 0.882, 0.882, 0.882, 0.882, 0.881],
    "test acc": [0.10, 0.45, 0.66, 0.72, 0.71, 0.73, 0.835, 0.845, 0.84, 0.875, 0.87, 0.87, 0.88, 0.88, 0.88, 0.88, 0.88],
}

ROWS = [
    ("cdnv", [cdnv_train_3, cdnv_train_5, cdnv_train_8, cdnv_train_12, cdnv_train_16], False),
    ("acc", [acc_train_3, acc_train_5, acc_train_8, acc_train_12, acc_train_16], True),
    ("cdnv", [cdnv_test_3, cdnv_test_5, cdnv_test_8, cdnv_test_12, cdnv_test_16], False),
    ("acc", [acc_test_3, acc_test_5, acc_test_8, acc_test_12, acc_test_16], False),
]

# ---------------- layout / style ----------------
W, H = 158, 105
XDOM = [-14.5, 524.5]
CDNV_DOM = [-4, 10]
ACC_DOM = [0, 1]
ZOOM_X = [200, 500]
ZOOM_Y = [0.974, 1.0105]
ZOOM_BOX_TOP = 1.0
INSET_X = [200, 315]
INSET_Y = [0.02, 0.355]
FONT = "DejaVu Sans"
SERIF = "Liberation Serif"
TXT = "#222222"

SUP = ("datum.value==10?'2¹⁰':datum.value==8?'2⁸':datum.value==6?'2⁶':"
       "datum.value==4?'2⁴':datum.value==2?'2²':datum.value==0?'2⁰':"
       "datum.value==-2?'2⁻²':'2⁻⁴'")


def px(e):
    return (e - XDOM[0]) / (XDOM[1] - XDOM[0]) * W


def py(v):
    return (1 - v) * H


def x_axis():
    return alt.Axis(values=EPOCH_TICKS, title="Epoch", grid=False, domain=False,
                    tickSize=2, labelPadding=1, titlePadding=1, labelFontSize=5.5,
                    titleFontSize=7, labelFont=FONT, titleFont=FONT,
                    titleFontWeight="normal", labelColor=TXT, titleColor=TXT,
                    tickColor=TXT, labelFlush=False)


def y_axis(kind, hidden=False):
    kw = dict(grid=False, domain=False, tickSize=2, labelPadding=1, titlePadding=2,
              labelFontSize=5.5, titleFontSize=7, labelFont=FONT, titleFont=FONT,
              titleFontWeight="normal", minExtent=16, maxExtent=16,
              labelColor=TXT, titleColor=TXT, tickColor=TXT, labelFlush=False)
    if hidden:
        kw.update(labelColor="transparent", titleColor="transparent", tickColor="transparent")
    if kind == "cdnv":
        return alt.Axis(values=CDNV_TICKS, labelExpr=SUP, title="CDNV", **kw)
    return alt.Axis(values=ACC_TICKS, format=".1f", title="Accuracy", **kw)


def legend(loc, cols):
    return alt.Legend(title=None, orient=loc, columns=cols, labelFontSize=4.2,
                      labelFont=FONT, labelColor=TXT, symbolType="stroke",
                      symbolSize=30, symbolStrokeWidth=1.2, rowPadding=0,
                      columnPadding=4, labelOffset=2, padding=2, offset=2,
                      strokeColor="#cccccc", fillColor="white", cornerRadius=2,
                      labelLimit=60)


def styles(names):
    colors, dashes = [], []
    for n in names:
        if n.startswith("layer"):
            k = int(n.split()[1])
            colors.append(TAB10[(k - 1) % 10])
            dashes.append([1.2, 1.2] if k >= 10 else [1, 0])
        else:
            colors.append("black")
            dashes.append([3, 1.5])
    return colors, dashes


def to_long(series):
    rows = []
    for name, vals in series.items():
        assert len(vals) == len(EPOCHS), name
        for e, v in zip(EPOCHS, vals):
            rows.append({"epoch": e, "value": v, "series": name})
    return pd.DataFrame(rows)


def panel(series, kind, inset):
    order = list(series.keys())
    cols = 2 if len(order) > 16 else 1
    colors, dashes = styles(order)
    leg = legend("top-right" if kind == "cdnv" else "bottom-right", cols)
    color = alt.Color("series:N", scale=alt.Scale(domain=order, range=colors), legend=leg)
    dash = alt.StrokeDash("series:N", scale=alt.Scale(domain=order, range=dashes), legend=leg)
    ydom = CDNV_DOM if kind == "cdnv" else ACC_DOM
    xenc = alt.X("epoch:Q", scale=alt.Scale(domain=XDOM, nice=False, zero=False), axis=x_axis())
    yenc = alt.Y("value:Q", scale=alt.Scale(domain=ydom, nice=False, zero=False), axis=y_axis(kind))
    lines = alt.Chart(to_long(series)).mark_line(strokeWidth=1.3, clip=True).encode(
        x=xenc, y=yenc, color=color, strokeDash=dash)
    if not inset:
        return lines.properties(width=W, height=H)

    zoom_box = alt.Chart(pd.DataFrame({"epoch": [ZOOM_X[0]], "epoch2": [ZOOM_X[1]],
                                       "value": [ZOOM_Y[0]], "value2": [ZOOM_BOX_TOP]})).mark_rect(
        fillOpacity=0, stroke="black", strokeWidth=1.3).encode(x=xenc, x2="epoch2", y=yenc, y2="value2")
    inset_box = alt.Chart(pd.DataFrame({"epoch": [INSET_X[0]], "epoch2": [INSET_X[1]],
                                        "value": [INSET_Y[0]], "value2": [INSET_Y[1]]})).mark_rect(
        fill="white", stroke="black", strokeWidth=1.3).encode(x=xenc, x2="epoch2", y=yenc, y2="value2")
    connector = alt.Chart(pd.DataFrame({"epoch": [INSET_X[0]], "value": [INSET_Y[1]],
                                        "value2": [ZOOM_Y[0]]})).mark_rule(
        stroke="black", strokeWidth=1.3).encode(x=xenc, y=yenc, y2="value2")
    main = alt.layer(lines, zoom_box, inset_box, connector)

    late = {k: v for k, v in series.items() if v[-1] >= ZOOM_Y[0]}
    dfi = to_long(late)
    dfi = dfi[dfi["epoch"] >= ZOOM_X[0]]
    ix = alt.X("epoch:Q", scale=alt.Scale(domain=ZOOM_X, range=[px(INSET_X[0]), px(INSET_X[1])],
                                          nice=False, zero=False), axis=None)
    iy = alt.Y("value:Q", scale=alt.Scale(domain=ZOOM_Y, range=[py(INSET_Y[0]), py(INSET_Y[1])],
                                          nice=False, zero=False, clamp=True),
               axis=alt.Axis(values=INSET_TICKS, format=".2f", orient="left",
                             offset=-px(INSET_X[0]), title=None, grid=False, domain=False,
                             tickSize=2, labelFontSize=5, labelPadding=1, labelFont=FONT,
                             labelColor=TXT, tickColor=TXT))
    inset_lines = alt.Chart(dfi).mark_line(strokeWidth=1.2).encode(x=ix, y=iy, color=color, strokeDash=dash)
    return alt.layer(main, alt.layer(inset_lines)).resolve_scale(
        x="independent", y="independent").properties(width=W, height=H)


def title(text):
    return alt.TitleParams(text=text, orient="bottom", anchor="middle", font=SERIF,
                           fontSize=21, fontWeight="normal", color="black", offset=9)


def label_panel(text):
    df = pd.DataFrame({"label": [text], "d": [0.5]})
    return alt.Chart(df).mark_text(font=SERIF, fontSize=21, align="center", baseline="middle",
                                   color="black").encode(
        x=alt.value(W / 2),
        y=alt.Y("d:Q", scale=alt.Scale(domain=[0, 1]), axis=y_axis("acc", hidden=True)),
        text="label:N").properties(width=W, height=22, view=alt.ViewBackground(stroke="transparent"))


SP = 25
row_charts = []
for (kind, datasets, inset), rt in zip(ROWS, ROW_TITLES):
    panels = [panel(d, kind, inset) for d in datasets]
    row_charts.append(alt.hconcat(*panels, spacing=SP).resolve_scale(
        color="independent", strokeDash="independent").properties(title=title(rt)))

labels_row = alt.hconcat(*[label_panel(t) for t in COL_LABELS], spacing=SP)
last = alt.vconcat(row_charts[3], labels_row, spacing=3).resolve_scale(
    color="independent", strokeDash="independent")

chart = alt.vconcat(row_charts[0], row_charts[1], row_charts[2], last, spacing=22).resolve_scale(
    color="independent", strokeDash="independent").configure_view(
    stroke="black", strokeWidth=0.8).configure(background="white", padding=0)

chart.save("out.html", embed_options={"renderer": "svg", "actions": False})
